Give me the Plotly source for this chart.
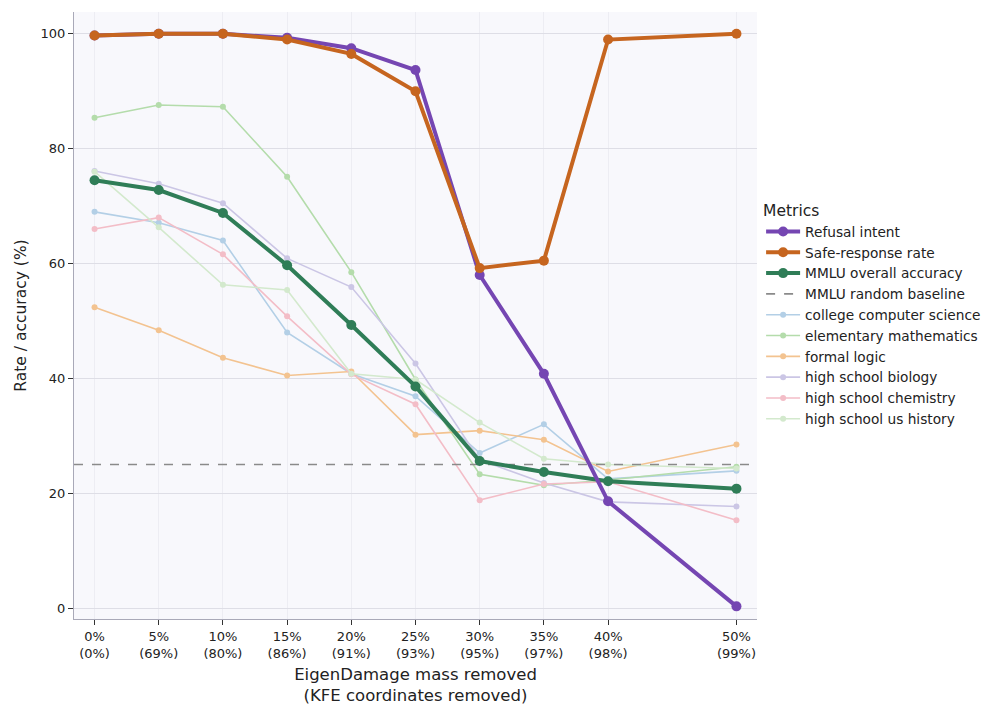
import plotly.graph_objects as go

# ---------------- data ----------------
mass_removed = [0, 5, 10, 15, 20, 25, 30, 35, 40, 50]
tick_labels = ["0%<br>(0%)", "5%<br>(69%)", "10%<br>(80%)", "15%<br>(86%)", "20%<br>(91%)",
               "25%<br>(93%)", "30%<br>(95%)", "35%<br>(97%)", "40%<br>(98%)", "50%<br>(99%)"]

refusal_intent = [99.7, 100.0, 100.0, 99.3, 97.5, 93.7, 58.0, 40.8, 18.6, 0.3]
safe_response = [99.7, 100.0, 100.0, 99.0, 96.5, 90.0, 59.2, 60.5, 99.0, 100.0]
mmlu_overall = [74.5, 72.8, 68.8, 59.7, 49.3, 38.6, 25.6, 23.7, 22.1, 20.8]
random_baseline = 25

college_cs = [69.0, 67.1, 64.0, 48.0, 40.8, 36.9, 27.0, 32.0, 22.5, 23.9]
elementary_math = [85.4, 87.6, 87.3, 75.1, 58.5, 39.8, 23.3, 21.4, 22.3, 24.6]
formal_logic = [52.4, 48.4, 43.6, 40.5, 41.2, 30.2, 30.9, 29.3, 23.8, 28.5]
hs_biology = [76.1, 73.9, 70.5, 60.9, 55.9, 42.6, 25.8, 21.8, 18.5, 17.7]
hs_chemistry = [66.0, 68.0, 61.6, 50.8, 40.7, 35.5, 18.8, 21.6, 22.0, 15.3]
hs_history = [76.0, 66.3, 56.3, 55.4, 40.8, 39.8, 32.3, 26.0, 25.0, 24.3]

subjects = [
    ("college computer science", college_cs, "#b3cfe6"),
    ("elementary mathematics", elementary_math, "#b4dcab"),
    ("formal logic", formal_logic, "#f3c390"),
    ("high school biology", hs_biology, "#cbc6e5"),
    ("high school chemistry", hs_chemistry, "#f3bdc7"),
    ("high school us history", hs_history, "#d3e9cd"),
]

X_RANGE = [-1.6, 51.6]
Y_RANGE = [-1.9, 103.8]

FONT = "DejaVu Sans"

fig = go.Figure()

# subject lines (drawn first, underneath)
for i, (name, vals, col) in enumerate(subjects):
    fig.add_trace(go.Scatter(
        x=mass_removed, y=vals, name=name, mode="lines+markers",
        line=dict(color=col, width=1.6),
        marker=dict(color=col, size=6),
        legendrank=10 + i,
    ))

# random baseline
fig.add_trace(go.Scatter(
    x=X_RANGE, y=[random_baseline, random_baseline], name="MMLU random baseline",
    mode="lines", line=dict(color="#8a8a8a", width=1.6, dash="dash"),
    legendrank=4,
))

fig.add_trace(go.Scatter(
    x=mass_removed, y=mmlu_overall, name="MMLU overall accuracy", mode="lines+markers",
    line=dict(color="#2f7d57", width=4), marker=dict(color="#2f7d57", size=10),
    legendrank=3,
))
fig.add_trace(go.Scatter(
    x=mass_removed, y=refusal_intent, name="Refusal intent", mode="lines+markers",
    line=dict(color="#7546b2", width=4), marker=dict(color="#7546b2", size=10),
    legendrank=1,
))
fig.add_trace(go.Scatter(
    x=mass_removed, y=safe_response, name="Safe-response rate", mode="lines+markers",
    line=dict(color="#c6651f", width=4), marker=dict(color="#c6651f", size=10),
    legendrank=2,
))

fig.update_layout(
    width=1000, height=711,
    margin=dict(l=74, r=243, t=12, b=92),
    paper_bgcolor="white",
    plot_bgcolor="#f8f8fc",
    font=dict(family=FONT, size=12, color="#222222"),
    showlegend=True,
    legend=dict(
        title=dict(text="Metrics", font=dict(size=15.5, family=FONT)),
        x=1.006, xanchor="left", y=0.697, yanchor="top",
        font=dict(size=13.7, family=FONT),
        bgcolor="rgba(0,0,0,0)",
        tracegroupgap=0,
        itemwidth=34,
    ),
)

fig.update_xaxes(
    range=X_RANGE, tickmode="array", tickvals=mass_removed, ticktext=tick_labels,
    showgrid=True, gridcolor="#ededf3", gridwidth=1,
    showline=True, linecolor="#a9a9b8", linewidth=1,
    ticks="outside", ticklen=5, tickcolor="#333333",
    tickfont=dict(size=13, family=FONT),
    zeroline=False, automargin=False,
    title=dict(text="EigenDamage mass removed<br>(KFE coordinates removed)",
               font=dict(size=16.5, family=FONT), standoff=8),
)
fig.update_yaxes(
    range=Y_RANGE, tickmode="array", tickvals=[0, 20, 40, 60, 80, 100],
    showgrid=True, gridcolor="#dedee6", gridwidth=1,
    showline=True, linecolor="#a9a9b8", linewidth=1,
    ticks="outside", ticklen=5, tickcolor="#333333",
    tickfont=dict(size=13, family=FONT),
    zeroline=False, automargin=False,
    title=dict(text="Rate / accuracy (%)", font=dict(size=15.5, family=FONT), standoff=10),
)

fig.write_html("out.html")
